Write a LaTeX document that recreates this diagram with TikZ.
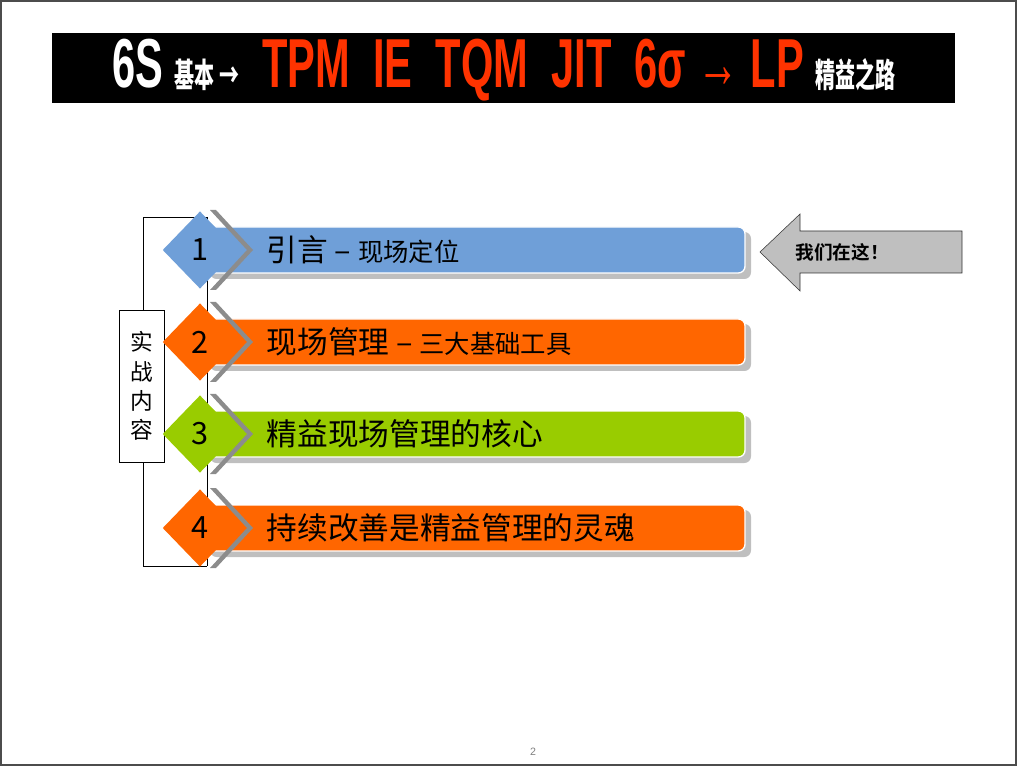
\documentclass[tikz,border=0pt]{standalone}
\usepackage{fontspec}
\setmainfont{Liberation Sans}
\newfontfamily\cjk{Noto Sans CJK SC}
\newfontfamily\cjkb{Noto Sans CJK SC Bold}
\usetikzlibrary{positioning,shapes.geometric}
\definecolor{barblue}{HTML}{6F9FD8}
\definecolor{barorange}{HTML}{FF6600}
\definecolor{bargreen}{HTML}{99CC00}
\definecolor{titlered}{HTML}{FF3300}
\begin{document}
\begin{tikzpicture}
  [x=0.75pt,y=-0.75pt,
    bar/.style={rounded corners=5pt,draw=white,line width=1pt,fill=#1},
    barshadow/.style={rounded corners=5pt,fill=black!25},
    dia/.style={diamond,minimum width=56pt,minimum height=58pt,inner sep=0pt,fill=#1,font=\cjk\fontsize{23}{23}\selectfont},
    label/.style={anchor=west,font=\cjk\fontsize{23}{23}\selectfont},
]
  \useasboundingbox (0,0) rectangle (1017,766);
  \draw[black!70,line width=1.5pt] (1,1) rectangle (1016,765);

  % title
  \fill[black] (52,33) rectangle (955,103);
  \node(title) at (504,70) {\scalebox{0.6}[1]{\bfseries\fontsize{52}{52}\selectfont
    \textcolor{white}{6S \cjkb\fontsize{25}{25}\selectfont 基本 →}
    \textcolor{titlered}{\ TPM\ \ IE\ \ TQM\ \ JIT\ \ 6σ →\ LP}
    \textcolor{white}{\cjkb\fontsize{25}{25}\selectfont 精益之路}}};

  % bracket
  \draw (207,217) -- (143,217) -- (143,566) -- (207,566);
  \draw (207,217) -- (207,566);
  \node(side)[draw,fill=white,minimum width=34pt,minimum height=114pt,align=center,
    font=\cjk\fontsize{17}{22}\selectfont] at (142,386) {实\\战\\内\\容};

  % rows
  \foreach \y/\c/\n/\t in {250/barblue/1/{引言 – {\fontsize{19}{19}\selectfont 现场定位}},
      342/barorange/2/{现场管理 – {\fontsize{19}{19}\selectfont 三大基础工具}},
      434/bargreen/3/精益现场管理的核心,
      528/barorange/4/持续改善是精益管理的灵魂}{
    \fill[barshadow] (210,\y-18) rectangle (751,\y+29);
    \draw[bar=\c] (205,\y-23) rectangle (745,\y+23);
    \fill[black!45] (210,\y-40) -- (247,\y) -- (210,\y+40) -- (216,\y+40) -- (253,\y) -- (216,\y-40) -- cycle;
    \node(d\n)[dia=\c] at (200,\y) {\n};
    \node(t\n)[label] at (262,\y) {\t};
  }

  % we are here
  \draw[fill=black!25,draw=black!80] (760,252) -- (800,214) -- (800,231) -- (962,231)
    -- (962,273) -- (800,273) -- (800,291) -- cycle;
  \node(here) at (842,252) {\cjkb\fontsize{14}{14}\selectfont 我们在这！};

  \node(page)[black!50,font=\fontsize{8}{8}\selectfont] at (533,752) {2};
\end{tikzpicture}
\end{document}
